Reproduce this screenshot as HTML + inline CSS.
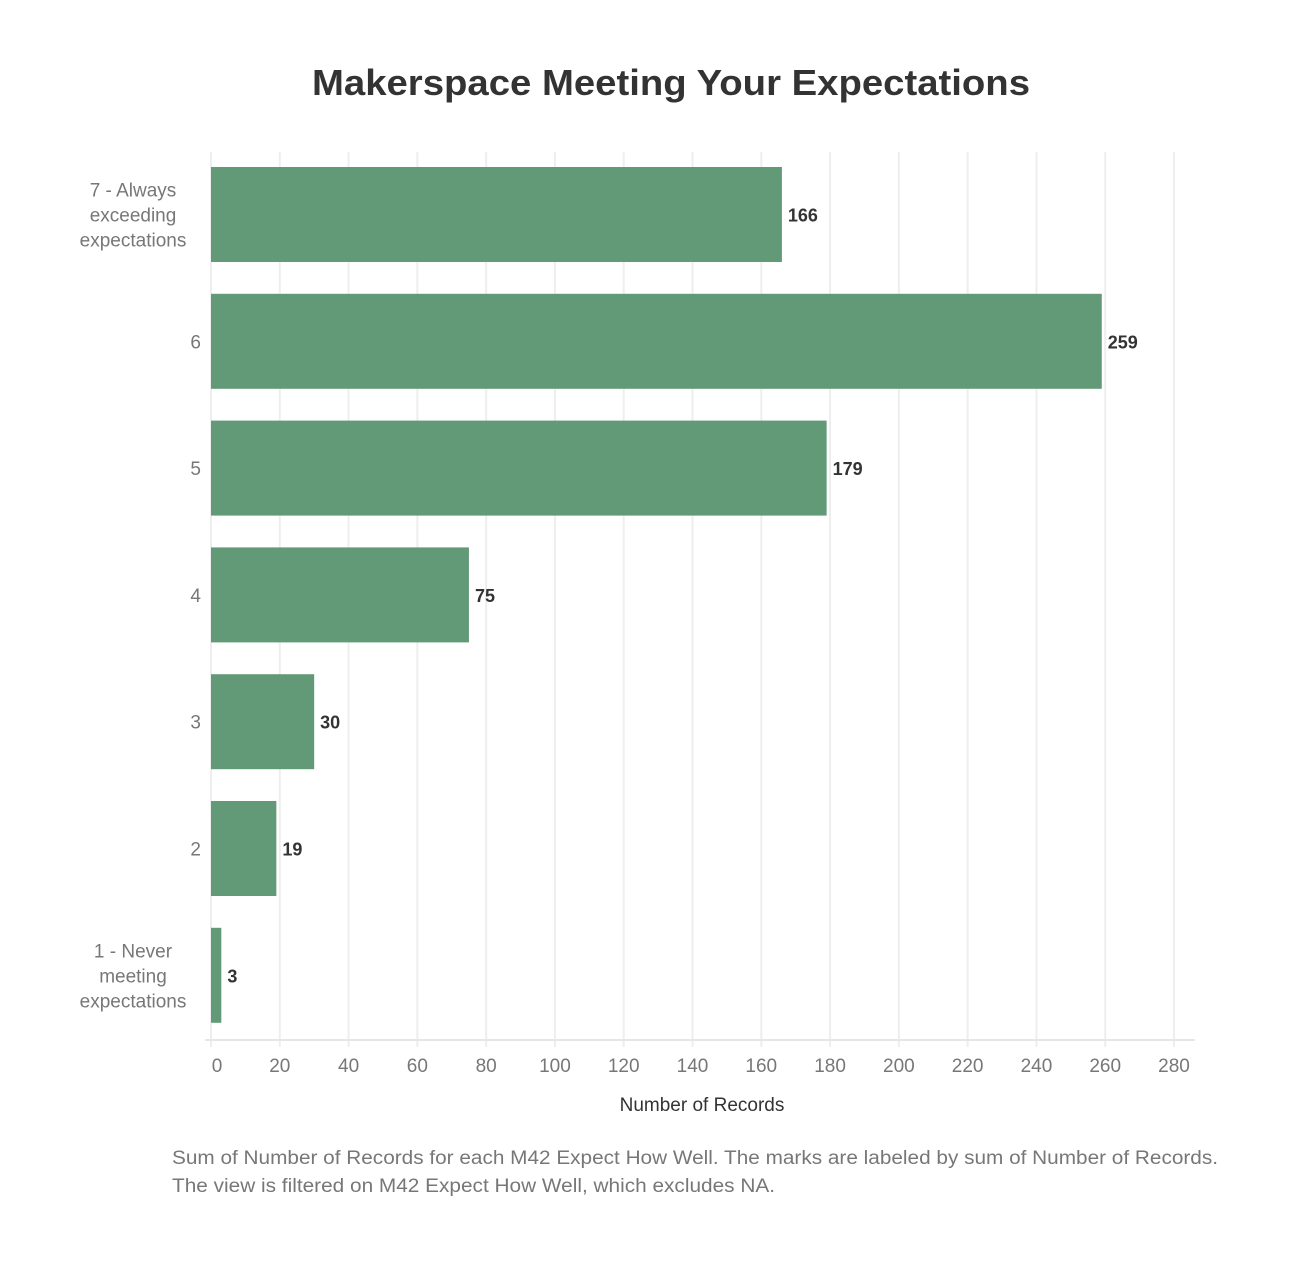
<!DOCTYPE html>
<html><head><meta charset="utf-8"><style>
body{margin:0;background:#fff;font-family:"Liberation Sans",sans-serif;}
svg text{font-family:"Liberation Sans",sans-serif;}
</style></head><body>
<svg id="chart" width="1304" height="1275" viewBox="0 0 1304 1275" xmlns="http://www.w3.org/2000/svg">
<rect width="1304" height="1275" fill="#fff"/>
<text x="312" y="95" textLength="718" lengthAdjust="spacingAndGlyphs" font-size="36" font-weight="bold" fill="#333">Makerspace Meeting Your Expectations</text>
<g id="grid"></g><g id="bars"></g><g id="ylabels"></g><g id="xaxis"></g>
<text x="702" y="1111" text-anchor="middle" font-size="19" fill="#333">Number of Records</text>
<text x="172" y="1164" textLength="1046" lengthAdjust="spacingAndGlyphs" font-size="19" fill="#777">Sum of Number of Records for each M42 Expect How Well.  The marks are labeled by sum of Number of Records.</text>
<text x="172" y="1192" textLength="603" lengthAdjust="spacingAndGlyphs" font-size="19" fill="#777">The view is filtered on M42 Expect How Well, which excludes NA.</text>
</svg>
<script>
const categories=[["7 - Always","exceeding","expectations"],["6"],["5"],["4"],["3"],["2"],["1 - Never","meeting","expectations"]];
const values=[166,259,179,75,30,19,3];
const ticks=[0,20,40,60,80,100,120,140,160,180,200,220,240,260,280];
const NS="http://www.w3.org/2000/svg";
const x0=211,pxPer=(1174-211)/280,plotTop=152,band=126.8,barH=95,barOff=15;
const xs=v=>x0+v*pxPer;
const ys=i=>plotTop+i*band+barOff;
function mk(t,a,p){const e=document.createElementNS(NS,t);for(const k in a)e.setAttribute(k,a[k]);document.getElementById(p).appendChild(e);return e;}
ticks.forEach((t)=>{
 const g=mk('line',{x1:xs(t),x2:xs(t),y1:152,y2:1047,stroke:'#eeeeee','stroke-width':2},'grid');
 
 
 const l=mk('text',{x:t===0?xs(t)+6:xs(t),y:1072,'text-anchor':'middle','font-size':19,fill:'#777'},'xaxis');
 l.textContent=t;
 
 
});
const ax=mk('line',{x1:205,x2:1195,y1:1040,y2:1040,stroke:'#e6e6e6','stroke-width':2},'xaxis');


values.forEach((v,i)=>{
 const r=mk('rect',{x:x0,y:ys(i),width:xs(v)-x0,height:barH,fill:'#629a77'},'bars');
 
 
 const t=mk('text',{x:xs(v)+6,y:ys(i)+barH/2+7,'font-size':18,'font-weight':'bold',fill:'#333'},'bars');
 t.textContent=v;
 
 
 const lines=categories[i];const cy=ys(i)+barH/2;
 lines.forEach((s,j)=>{
  const tl=mk('text',{x:lines.length>1?133:201,y:cy+7+(j-(lines.length-1)/2)*25,'text-anchor':lines.length>1?'middle':'end','font-size':19,fill:'#777'},'ylabels');
  tl.textContent=s;
  
  
 });
});
</script>
</body></html>
